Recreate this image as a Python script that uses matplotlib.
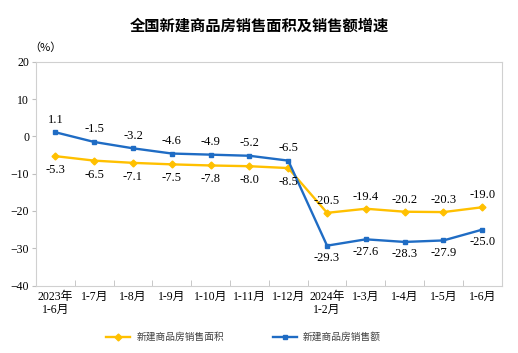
import matplotlib.pyplot as plt
import numpy as np

plt.rcParams['font.family'] = ['Liberation Serif', 'Noto Sans CJK SC']

categories = ['2023年\n1-6月', '1-7月', '1-8月', '1-9月', '1-10月', '1-11月', '1-12月',
              '2024年\n1-2月', '1-3月', '1-4月', '1-5月', '1-6月']
area = [-5.3, -6.5, -7.1, -7.5, -7.8, -8.0, -8.5, -20.5, -19.4, -20.2, -20.3, -19.0]
amount = [1.1, -1.5, -3.2, -4.6, -4.9, -5.2, -6.5, -29.3, -27.6, -28.3, -27.9, -25.0]

yellow = '#FFC000'
blue = '#1F6CC4'

fig = plt.figure(figsize=(5.18, 3.53), dpi=100)
ax = fig.add_axes([0.0695, 0.191, 0.899, 0.634])
x = np.arange(len(categories))

ax.plot(x, area, color=yellow, lw=1.7, marker='D', ms=3.5, label='新建商品房销售面积')
ax.plot(x, amount, color=blue, lw=1.7, marker='s', ms=3.5, label='新建商品房销售额')

# 前7期: 销售额标签在上, 面积在下; 2024年以后反过来
for i in range(len(x)):
    if i < 7:
        a_off, b_off = -10, 9
    else:
        a_off, b_off = 8.5, -9
    ax.annotate(f'{area[i]:.1f}', (x[i], area[i]), xytext=(0, a_off), textcoords='offset points',
                ha='center', va='center', fontsize=9)
    ax.annotate(f'{amount[i]:.1f}', (x[i], amount[i]), xytext=(0, b_off), textcoords='offset points',
                ha='center', va='center', fontsize=9)

ax.set_xlim(-0.5, len(x) - 0.5)
ax.set_ylim(-40, 20)
ax.set_yticks(range(-40, 21, 10))
ax.tick_params(axis='y', labelsize=8.5, length=3, color='#BFBFBF', pad=2)
ax.set_xticks(x)
ax.set_xticklabels(categories, fontsize=8.5, linespacing=1.1)
ax.set_xticks(np.arange(0.5, len(x) - 1, 1), minor=True)
ax.tick_params(axis='x', which='major', length=0, pad=4)
ax.tick_params(axis='x', which='minor', direction='in', length=4, color='#BFBFBF')
for s in ax.spines.values():
    s.set_color('#D0D0D0')
    s.set_linewidth(0.8)

fig.text(0.5, 0.927, '全国新建商品房销售面积及销售额增速', ha='center', va='center',
         fontsize=11, fontweight='bold', family='Noto Sans CJK SC')
fig.text(0.088, 0.865, '（%）', ha='center', va='center', fontsize=8, family='Noto Sans CJK SC')

leg = fig.legend(loc='center', bbox_to_anchor=(0.47, 0.045), ncol=2, frameon=False,
                 columnspacing=5, handlelength=2.5, handletextpad=0.6,
                 prop={'family': 'Noto Sans CJK SC', 'size': 7})
for t in leg.get_texts():
    t.set_color('#404040')

fig.savefig('out.png', dpi=100)
